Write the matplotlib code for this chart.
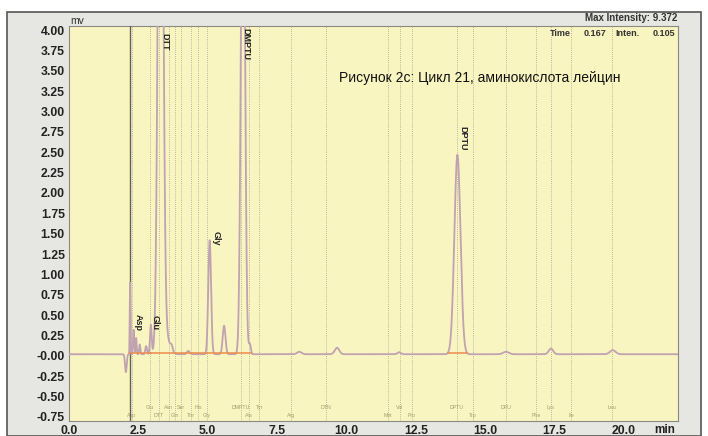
import numpy as np
import matplotlib
matplotlib.use("Agg")
import matplotlib.pyplot as plt
from matplotlib.patches import Rectangle
from matplotlib import font_manager

# ---------------- data ----------------
# chromatogram peaks: retention time (min), height (mV), width (sigma, min)
peak_times   = [2.05, 2.20, 2.33, 2.42, 2.55, 2.78, 2.95, 3.30, 3.50, 3.70, 4.30,
                5.07, 5.59, 6.27, 6.52, 8.30, 9.66, 11.90, 14.00, 15.75, 17.37, 19.60]
peak_heights = [-0.22, 0.88, 0.30, 0.20, 0.12, 0.10, 0.36, 9.37, 0.20, 0.06, 0.04,
                1.40, 0.35, 7.00, 0.12, 0.03, 0.08, 0.025, 2.45, 0.03, 0.07, 0.05]
peak_widths  = [0.03, 0.012, 0.02, 0.018, 0.02, 0.03, 0.03, 0.085, 0.13, 0.04, 0.05,
                0.05, 0.05, 0.07, 0.035, 0.08, 0.08, 0.06, 0.11, 0.1, 0.08, 0.1]
baseline_level = 0.02

# integration baselines (orange): start, end, level
integ_start = [2.20, 2.95, 13.65]
integ_end   = [2.95, 6.55, 14.35]
integ_level = [0.03, 0.04, 0.03]

# reference marker lines (component windows) and their labels
marker_times = [2.27, 2.92, 3.24, 3.60, 3.82, 4.04, 4.40, 4.65, 4.97, 6.20, 6.49, 6.85,
                8.00, 9.26, 11.50, 11.93, 12.36, 13.98, 14.56, 15.75, 16.83, 17.37, 18.09, 19.57]
marker_names = ["Asp", "Glu", "DTT", "Asn", "Gln", "Ser", "Thr", "His", "Gly", "DMPTU", "Ala", "Tyr",
                "Arg", "DTN", "Met", "Val", "Pro", "DPTU", "Trp", "DPU", "Phe", "Lys", "Ile", "Leu"]
marker_row   = [0, 1, 0, 1, 0, 1, 0, 1, 0, 1, 0, 1,
                0, 1, 0, 1, 0, 1, 0, 1, 0, 1, 0, 1]

# named peak labels
label_names = ["Asp", "Glu", "DTT", "Gly", "DMPTU", "DPTU"]
label_times = [2.48, 3.10, 3.46, 5.30, 6.36, 14.18]
label_y     = [0.30, 0.32, 3.97, 1.36, 4.03, 2.52]

injection_time = 2.20
x_ticks = [0.0, 2.5, 5.0, 7.5, 10.0, 12.5, 15.0, 17.5, 20.0]
y_ticks = [4.00, 3.75, 3.50, 3.25, 3.00, 2.75, 2.50, 2.25, 2.00, 1.75, 1.50, 1.25,
           1.00, 0.75, 0.50, 0.25, 0.00, -0.25, -0.50, -0.75]
y_tick_labels = ["4.00", "3.75", "3.50", "3.25", "3.00", "2.75", "2.50", "2.25", "2.00", "1.75",
                 "1.50", "1.25", "1.00", "0.75", "0.50", "0.25", "-0.00", "-0.25", "-0.50", "-0.75"]
# --------------------------------------------------------------

avail = {f.name for f in font_manager.fontManager.ttflist}
narrow = "Liberation Sans Narrow" if "Liberation Sans Narrow" in avail else "Liberation Sans"

t = np.linspace(0, 22, 6000)
signal = np.full_like(t, baseline_level)
for pt, ph, pw in zip(peak_times, peak_heights, peak_widths):
    signal += ph * np.exp(-0.5 * ((t - pt) / pw) ** 2)

fig = plt.figure(figsize=(7.08, 4.36), dpi=100, facecolor="white")
fig.patches.append(Rectangle((7 / 708, 0), 694 / 708, 1 - 12 / 436, transform=fig.transFigure,
                             facecolor="#e6e6e3", edgecolor="#555555", linewidth=1.2, zorder=-5))

ax = fig.add_axes([69 / 708, 1 - 421 / 436, 609 / 708, 395 / 436])
ax.set_facecolor("#f9f5c1")
ax.set_xlim(0, 21.95)
ax.set_ylim(-0.80, 4.05)

for s in ax.spines.values():
    s.set_color("#8a8a80")
    s.set_linewidth(0.8)

# marker lines
for mt, mn, mr in zip(marker_times, marker_names, marker_row):
    ax.axvline(mt, color="#a8a490", linestyle=(0, (1, 1.5)), linewidth=0.6, zorder=1)
    ax.text(mt, -0.64 if mr == 1 else -0.73, mn, fontsize=3.8, color="#a49c6c",
            ha="center", va="center", family=narrow, zorder=2)

ax.axvline(injection_time, color="#606060", linewidth=1.0, zorder=3)

ax.plot(t, signal, color="#c0a2b0", linewidth=1.3, zorder=4)
for s0, s1, lv in zip(integ_start, integ_end, integ_level):
    ax.plot([s0, s1], [lv, lv], color="#ec8c4c", linewidth=1.1, zorder=5)

for nm, lt, ly in zip(label_names, label_times, label_y):
    va = "top" if ly > 3.5 else "bottom"
    ax.text(lt, ly, nm, rotation=270, fontsize=6.5, fontweight="bold", color="#222222",
            ha="center", va=va, family=narrow, zorder=6)

ax.set_xticks(x_ticks)
ax.set_xticklabels([f"{v:.1f}" for v in x_ticks])
ax.set_yticks(y_ticks)
ax.set_yticklabels(y_tick_labels)
ax.tick_params(length=0, pad=3, labelsize=8.8, colors="#222222")
for lab in ax.get_xticklabels() + ax.get_yticklabels():
    lab.set_fontweight("bold")
    lab.set_family(narrow)

ax.text(9.73, 3.41, "Рисунок 2с: Цикл 21, аминокислота лейцин", fontsize=10,
        family="Liberation Sans", color="#111111", va="center", ha="left", zorder=7)

fig.text(70 / 708, 1 - 21 / 436, "mv", fontsize=7.5, family=narrow, color="#333333", va="center")
fig.text(677 / 708, 1 - 18 / 436, "Max Intensity: 9.372", fontsize=7, fontweight="bold",
         family=narrow, color="#333333", ha="right", va="center")
info_kw = dict(fontsize=6.5, fontweight="bold", family=narrow, color="#333333", va="center")
fig.text(550 / 708, 1 - 34 / 436, "Time", ha="left", **info_kw)
fig.text(606 / 708, 1 - 34 / 436, "0.167", ha="right", **info_kw)
fig.text(615 / 708, 1 - 34 / 436, "Inten.", ha="left", **info_kw)
fig.text(675 / 708, 1 - 34 / 436, "0.105", ha="right", **info_kw)
fig.text(665 / 708, 1 - 430 / 436, "min", fontsize=8.5, fontweight="bold",
         family=narrow, color="#222222", ha="center", va="center")

fig.savefig("out.png", dpi=100, facecolor=fig.get_facecolor())
